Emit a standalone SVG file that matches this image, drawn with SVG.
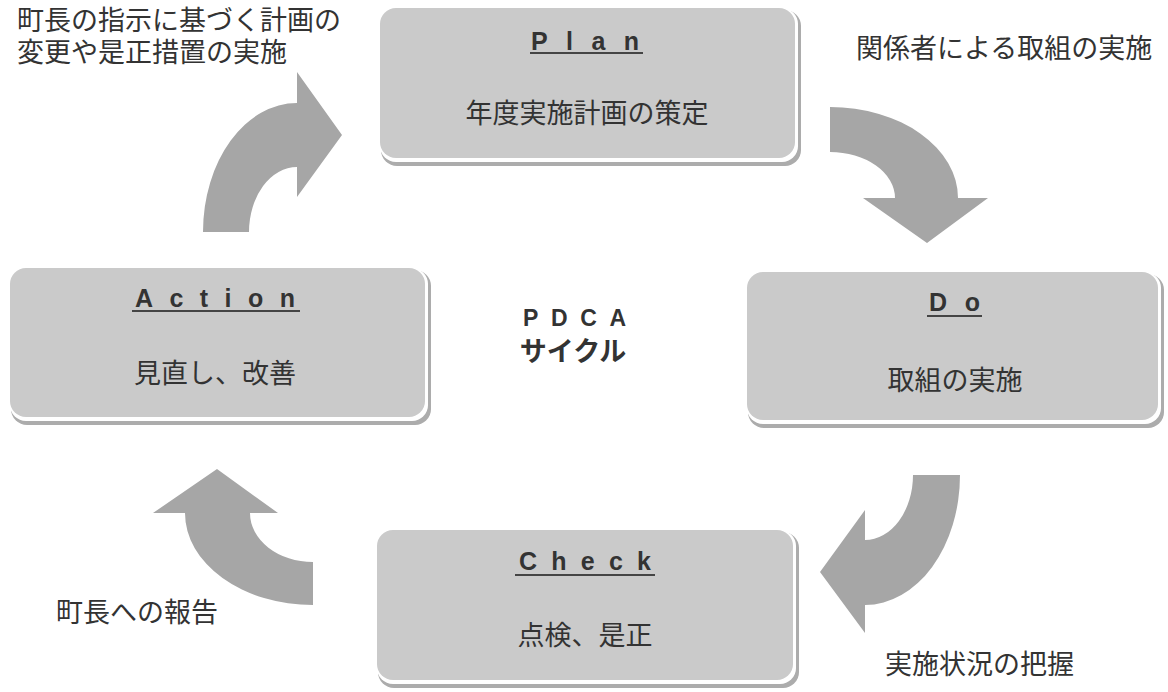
<svg xmlns="http://www.w3.org/2000/svg" width="1168" height="692" viewBox="0 0 1168 692">
<style>
.shadow{fill:#acacac}
.hl{fill:#ffffff}
.box{fill:#cacaca}
.title{font-family:"Liberation Sans",Arial,sans-serif;font-weight:bold;font-size:25px;fill:#333}
.ul{stroke:#444;stroke-width:2}
.sub{font-family:"Noto Sans CJK JP","Noto Sans CJK SC",sans-serif;font-size:27px;fill:#333;text-anchor:middle}
.lbl{font-family:"Noto Sans CJK JP","Noto Sans CJK SC",sans-serif;font-size:27px;fill:#333}
.arrow{fill:#a6a6a6}
.center{font-family:"Liberation Sans","Noto Sans CJK JP",sans-serif;font-weight:bold;fill:#333}
</style>
<rect width="1168" height="692" fill="#ffffff"/>

<g id="connectors">
<path class="arrow" d="M203,232 A94,129 0 0 1 297,103 L297,72 L342,135 L297,197 L297,167 A48,65 0 0 0 249,232 Z"/>
<path class="arrow" d="M830,107 A128,91 0 0 1 958,198 L988,198 L927,243 L863,198 L895,198 A65,46 0 0 0 830,152 Z"/>
<path class="arrow" d="M960,475 A95,130 0 0 1 865,605 L865,633 L820,572 L865,510 L865,540 A48,65 0 0 0 913,475 Z"/>
<path class="arrow" d="M313,605 A128,92 0 0 1 185,513 L153,513 L217,469 L278,513 L250,513 A63,49 0 0 0 313,562 Z"/>
</g>

<g id="plan">
<rect class="shadow" x="381" y="10" width="420" height="156" rx="16"/>
<rect class="hl" x="380" y="8" width="418" height="154" rx="16"/>
<rect class="box" x="380" y="8" width="415" height="150" rx="16"/>
<text class="title" x="531" y="50" textLength="108" lengthAdjust="spacing">Plan</text>
<line class="ul" x1="530" y1="53" x2="643" y2="53"/>
<text class="sub" x="587" y="123">年度実施計画の策定</text>
</g>

<g id="action">
<rect class="shadow" x="11" y="270" width="420" height="155" rx="16"/>
<rect class="hl" x="10" y="268" width="418" height="153" rx="16"/>
<rect class="box" x="10" y="268" width="415" height="149" rx="16"/>
<text class="title" x="135" y="307" textLength="160" lengthAdjust="spacing">Action</text>
<line class="ul" x1="132" y1="311" x2="300" y2="311"/>
<text class="sub" x="215" y="383">見直し、改善</text>
</g>

<g id="do">
<rect class="shadow" x="748" y="274" width="416" height="154" rx="16"/>
<rect class="hl" x="747" y="272" width="414" height="152" rx="16"/>
<rect class="box" x="747" y="272" width="411" height="148" rx="16"/>
<text class="title" x="929" y="311" textLength="51" lengthAdjust="spacing">Do</text>
<line class="ul" x1="927" y1="316" x2="982" y2="316"/>
<text class="sub" x="955" y="390">取組の実施</text>
</g>

<g id="check">
<rect class="shadow" x="378" y="532" width="421" height="156" rx="16"/>
<rect class="hl" x="377" y="530" width="419" height="154" rx="16"/>
<rect class="box" x="377" y="530" width="416" height="150" rx="16"/>
<text class="title" x="519" y="570" textLength="132" lengthAdjust="spacing">Check</text>
<line class="ul" x1="515" y1="575" x2="655" y2="575"/>
<text class="sub" x="585" y="645">点検、是正</text>
</g>

<g id="center-label">
<text class="center" x="523" y="326" font-size="23" textLength="103" lengthAdjust="spacing">PDCA</text>
<text class="center" x="573" y="361" font-size="27" text-anchor="middle" font-family="Noto Sans CJK JP, sans-serif">サイクル</text>
</g>

<g id="labels">
<text class="lbl" x="17" y="30"><tspan x="17" y="30">町長の指示に基づく計画の</tspan><tspan x="17" y="62">変更や是正措置の実施</tspan></text>
<text class="lbl" x="856" y="58">関係者による取組の実施</text>
<text class="lbl" x="56" y="622">町長への報告</text>
<text class="lbl" x="885" y="674">実施状況の把握</text>
</g>
</svg>
